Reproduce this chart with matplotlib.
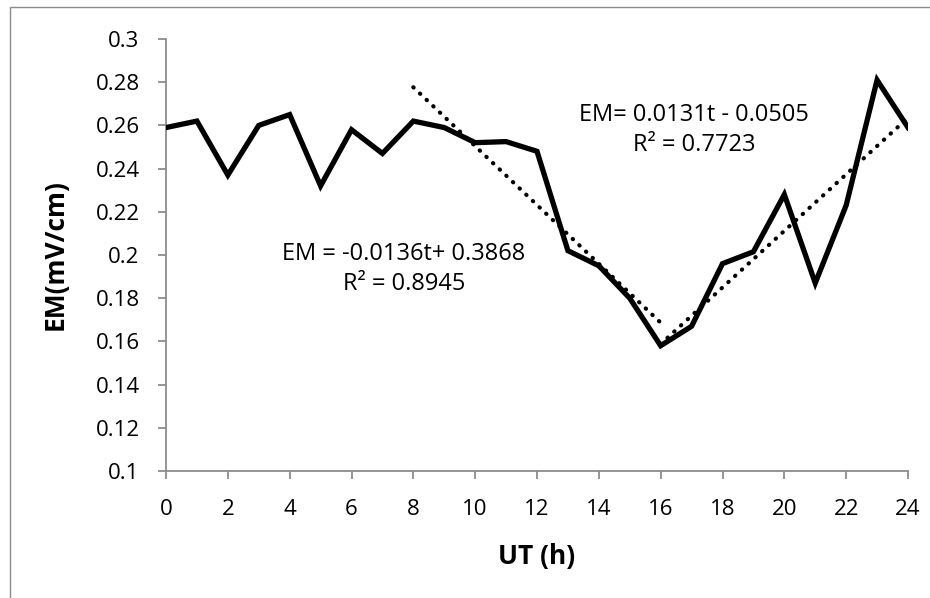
import numpy as np
import matplotlib.pyplot as plt
from matplotlib.patches import Rectangle

# dados
horas = list(range(0, 25))
em = [0.259, 0.262, 0.237, 0.260, 0.265, 0.232, 0.258, 0.247, 0.262,
      0.259, 0.252, 0.2525, 0.248, 0.202, 0.195, 0.180, 0.158, 0.167,
      0.196, 0.2015, 0.228, 0.187, 0.223, 0.281, 0.259]
yticks = [0.1, 0.12, 0.14, 0.16, 0.18, 0.2, 0.22, 0.24, 0.26, 0.28, 0.3]
ytick_labels = ['0.1', '0.12', '0.14', '0.16', '0.18', '0.2', '0.22', '0.24', '0.26', '0.28', '0.3']
xticks = list(range(0, 25, 2))
trecho1 = (8, 16)     # tendencia de descida
trecho2 = (16, 24)    # tendencia de subida
texto1 = 'EM = -0.0136t+ 0.3868\nR² = 0.8945'
texto2 = 'EM= 0.0131t - 0.0505\nR² = 0.7723'

plt.rcParams['font.family'] = ['Open Sans', 'DejaVu Sans']

fig = plt.figure(figsize=(9.3, 5.98), dpi=100)
# borda da area do grafico (estilo Excel)
fig.patches.append(Rectangle((10/930, -0.1), 1.0, 1.1 - 7/598, transform=fig.transFigure,
                             fill=False, edgecolor='#8c8c8c', linewidth=1))
ax = fig.add_axes([166/930, 127/598, 742/930, 432/598])

t = np.array(horas)
y = np.array(em)
ax.plot(t, y, color='black', linewidth=3.8, solid_joinstyle='miter', zorder=3)

# linhas de tendencia (ajuste linear em cada trecho)
for a, b in (trecho1, trecho2):
    m = (t >= a) & (t <= b)
    coef = np.polyfit(t[m], y[m], 1)
    xs = np.array([a, b])
    ax.plot(xs, np.polyval(coef, xs), color='black', linewidth=3.0,
            linestyle=(0, (0.1, 2.1)), dash_capstyle='round', zorder=2)

ax.text(7.7, 0.1935, texto1, ha='center', va='center', fontsize=17, linespacing=1.3)
ax.text(17.08, 0.2579, texto2, ha='center', va='center', fontsize=17, linespacing=1.3)

ax.set_xlim(0, 24)
ax.set_ylim(0.1, 0.3)
ax.set_xticks(xticks)
ax.set_yticks(yticks)
ax.set_yticklabels(ytick_labels)
for s in ('top', 'right'):
    ax.spines[s].set_visible(False)
for s in ('left', 'bottom'):
    ax.spines[s].set_color('#8c8c8c')
    ax.spines[s].set_linewidth(1.3)
ax.tick_params(direction='out', length=6, width=1.3, color='#8c8c8c', labelsize=16)
ax.tick_params(axis='y', pad=13)
ax.tick_params(axis='x', pad=14)
ax.set_xlabel('UT (h)', fontsize=19, fontweight='bold', labelpad=17)
ax.set_ylabel('EM(mV/cm)', fontsize=19, fontweight='bold', labelpad=19)

fig.savefig('out.png', dpi=100)
